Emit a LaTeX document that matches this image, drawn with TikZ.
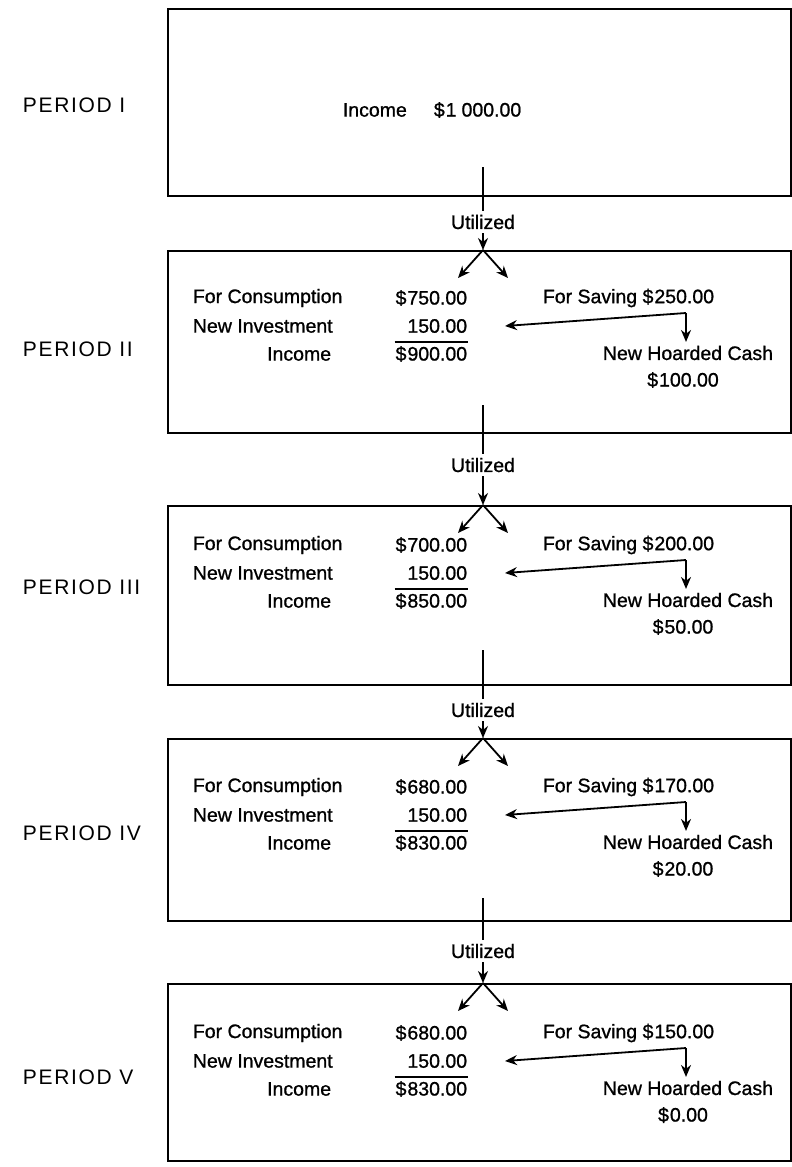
\documentclass[tikz,border=0pt]{standalone}
\usepackage{fontspec}
\setmainfont{Liberation Sans}
\usetikzlibrary{arrows.meta}
\newcommand\PeriodBox[8]{%
 \node[frame, anchor=north west, minimum width=623pt, minimum height={#3-#2}] (b#1) at (167,#2) {};
 \node[txt, anchor=west] (fc#1) at (192,#4) {For Consumption};
 \node[txt, anchor=west] (ni#1) at (192,{#4+28}) {New Investment};
 \node[txt, anchor=east] (in#1) at (332,{#4+56}) {Income};
 \node[txt, anchor=east] (ca#1) at (468,#4) {\$\kern1pt#5};
 \node[txt, anchor=east] (ia#1) at (468,{#4+28}) {150.00};
 \node[txt, anchor=east] (ta#1) at (468,{#4+56}) {\$\kern1pt#6};
 \draw[line width=1.6pt] ([yshift=3pt]ta#1.north west) -- ([yshift=3pt]ta#1.north east);
 \node[txt, anchor=west] (sv#1) at (542,#4) {For Saving \$\kern1pt#7};
 \coordinate (k#1) at (686,{#4+15});
 \coordinate (t#1) at ([xshift=37pt]ia#1.east);
 \node[txt] (hc#1) at (688,{#4+55}) {New Hoarded Cash};
 \node[txt] (ha#1) at (683,{#4+82}) {\$\kern1pt#8};
 \draw[arr] (k#1) -- (t#1);
 \draw[arr] (k#1) -- ([yshift=3pt]hc#1.north -| k#1);
 \coordinate (top#1) at (483,#2);
 \coordinate (fl#1) at (458,{#2+28});
 \coordinate (fr#1) at (508,{#2+28});
 \draw[arr] (top#1) -- (fl#1);
 \draw[arr] (top#1) -- (fr#1);
}
\begin{document}
\begin{tikzpicture}[x=1pt,y=-1pt, line width=1.8pt,
  txt/.style={inner sep=0pt, font=\fontsize{19.5}{21}\selectfont\addfontfeature{FakeBold=1}},
  per/.style={inner sep=0pt, anchor=west, font=\fontsize{21}{24}\selectfont\addfontfeature{LetterSpace=8}},
  frame/.style={draw, line width=1.8pt},
  arr/.style={-{Stealth[length=12pt,width=10pt]}, line width=1.8pt}]
\useasboundingbox (0,0) rectangle (792,1167);
\fill[white] (0,0) rectangle (792,1167);

% Period labels
\node[per] (p1) at (22,105) {PERIOD I};
\node[per] (p2) at (22,349) {PERIOD II};
\node[per] (p3) at (22,587) {PERIOD III};
\node[per] (p4) at (22,833) {PERIOD IV};
\node[per] (p5) at (22,1077) {PERIOD V};

% Box 1
\node[frame, anchor=north west, minimum width=623pt, minimum height=187pt] (b1) at (167,8) {};
\node[txt, anchor=west] (inc1) at (342,110) {Income};
\node[txt, anchor=west] (amt1) at (433,110) {\$\kern1pt1\kern5pt000.00};

\PeriodBox{2}{250}{432}{298}{750.00}{900.00}{250.00}{100.00}
\PeriodBox{3}{505}{684}{545}{700.00}{850.00}{200.00}{50.00}
\PeriodBox{4}{738}{920}{787}{680.00}{830.00}{170.00}{20.00}
\PeriodBox{5}{983}{1160}{1033}{680.00}{830.00}{150.00}{0.00}

% Utilized connectors
\coordinate (s1) at (483,167);
\coordinate (s2) at (483,405);
\coordinate (s3) at (483,650);
\coordinate (s4) at (483,898);
\node[txt] (u2) at (483,222) {Utilized};
\node[txt] (u3) at (483,465) {Utilized};
\node[txt] (u4) at (483,710) {Utilized};
\node[txt] (u5) at (483,951) {Utilized};
\draw (s1) -- ([yshift=3pt]u2.north);
\draw[arr] ([yshift=-3pt]u2.south) -- (top2);
\draw (s2) -- ([yshift=3pt]u3.north);
\draw[arr] ([yshift=-3pt]u3.south) -- (top3);
\draw (s3) -- ([yshift=3pt]u4.north);
\draw[arr] ([yshift=-3pt]u4.south) -- (top4);
\draw (s4) -- ([yshift=3pt]u5.north);
\draw[arr] ([yshift=-3pt]u5.south) -- (top5);
\end{tikzpicture}
\end{document}
